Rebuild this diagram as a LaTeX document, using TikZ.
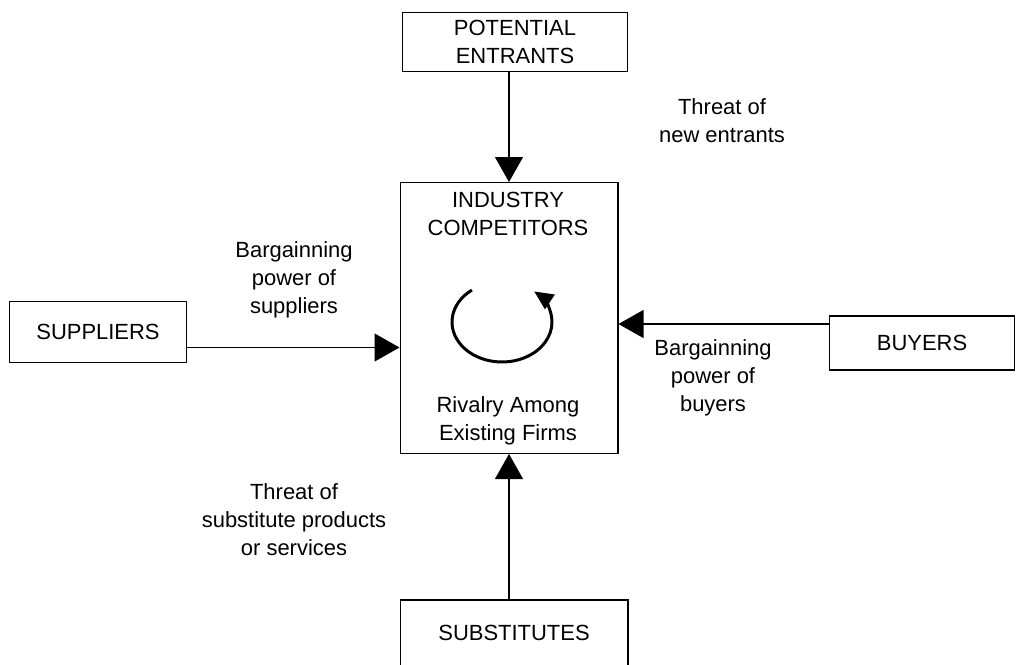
\documentclass[tikz,border=0pt]{standalone}
\usepackage{fontspec}
\setmainfont{Liberation Sans}
\usetikzlibrary{arrows.meta}

\begin{document}
\begin{tikzpicture}[x=0.02cm,y=-0.02cm,
    box/.style={draw,line width=0.6pt,align=center,font=\fontsize{12.5}{16}\selectfont},
    note/.style={align=center,font=\fontsize{12.5}{16}\selectfont},
    force/.style={-{Triangle[length=0.5cm,width=0.56cm]},line width=0.6pt},
    rival/.style={-{Triangle[length=0.38cm,width=0.34cm]},line width=1.7pt}]
    \useasboundingbox (0,0) rectangle (1017,664);
    \clip (0,0) rectangle (1017,664);
    % the five forces
    \node[box, minimum width=4.5cm,  minimum height=1.18cm] (entrants)    at (515,42)  {POTENTIAL\\ENTRANTS};
    \node[box, minimum width=4.36cm, minimum height=5.42cm] (industry)    at (509,318) {};
    \node[box, minimum width=3.54cm, minimum height=1.22cm] (suppliers)   at (98,332)  {SUPPLIERS};
    \node[box, minimum width=3.7cm,  minimum height=1.08cm] (buyers)      at (922,343) {BUYERS};
    \node[box, minimum width=4.56cm, minimum height=1.32cm] (substitutes) at (514,633) {SUBSTITUTES};
    \node[note] (industrytitle) at (508,214) {INDUSTRY\\COMPETITORS};
    \node[note] (rivalry)       at (508,421) {Rivalry Among\\Existing Firms};
    \coordinate (swirl) at (502,322);
    \draw[rival] ([shift={(127:1cm and 0.8cm)}]swirl) arc[start angle=127, end angle=410, x radius=1cm, y radius=0.8cm];
    % labels
    \node[note] (newthreat)  at (722,121) {Threat of\\new entrants};
    \node[note] (supplypow)  at (294,280) {Bargainning\\power of\\suppliers};
    \node[note] (buypow)     at (713,378) {Bargainning\\power of\\buyers};
    \node[note] (subthreat)  at (294,520) {Threat of\\substitute products\\or services};
    % connectors
    \draw[force] (industry.north |- entrants.south) -- (industry.north);
    \draw[force] (industry.south |- substitutes.north) -- (industry.south);
    \draw[force] ([yshift=-0.31cm]suppliers.east) -- ([yshift=-0.31cm]suppliers.east -| industry.west);
    \draw[force] ([yshift=0.38cm]buyers.west) -- ([yshift=0.38cm]buyers.west -| industry.east);
\end{tikzpicture}
\end{document}
